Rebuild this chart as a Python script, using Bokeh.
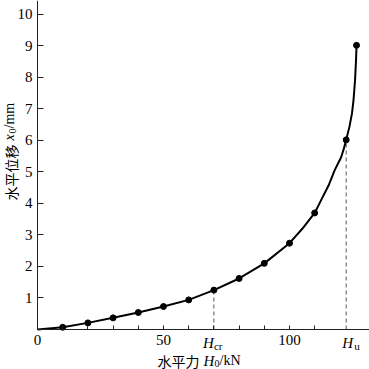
import math
from bokeh.plotting import figure
from bokeh.models import FixedTicker, Label, Range1d, LinearAxis
from bokeh.embed import file_html
from bokeh.resources import INLINE

# curve (horizontal force H0 in kN, displacement x0 in mm)
H_curve = [0, 10, 20, 30, 40, 50, 60, 70, 80, 90, 100, 105, 110, 112.7, 115.5, 117.9, 120.5, 121.6,
           122.5, 123.8, 124.8, 125.4, 126.0, 126.4, 126.6]
x_curve = [0, 0.07, 0.21, 0.37, 0.54, 0.73, 0.94, 1.25, 1.62, 2.1, 2.74, 3.19, 3.7, 4.13, 4.57, 5.05, 5.47, 5.75,
           6.02, 6.44, 6.86, 7.27, 7.90, 8.54, 9.02]

# measured points (markers)
H_pts = [10, 20, 30, 40, 50, 60, 70, 80, 90, 100, 110, 122.5, 126.6]
x_pts = [0.07, 0.21, 0.37, 0.54, 0.73, 0.94, 1.25, 1.62, 2.1, 2.74, 3.7, 6.02, 9.02]

# characteristic loads
H_cr = 70
x_cr = 1.25
H_u = 122.5
x_u = 6.02

x_major = [0, 50, 100]
x_major_labels = ["0", "50", "100"]
x_minor = [10, 20, 30, 40, 60, 70, 80, 90, 110]
y_ticks = [1, 2, 3, 4, 5, 6, 7, 8, 9, 10]

X_END = 131.75
Y_END = 10.444

p = figure(width=369, height=369, output_backend="svg", toolbar_location=None,
           x_range=Range1d(-14.683, X_END), y_range=Range1d(-1.2698, Y_END),
           x_axis_location=None, y_axis_location=None,
           min_border_left=0, min_border_right=0, min_border_top=0, min_border_bottom=0)
p.grid.visible = False
p.outline_line_color = None
p.background_fill_color = "white"
p.border_fill_color = "white"

SERIF = "Liberation Serif"
CJK = "Noto Sans CJK SC"

xa = LinearAxis(fixed_location=0, bounds=(0, X_END),
                ticker=FixedTicker(ticks=x_major, minor_ticks=x_minor))
xa.major_label_overrides = {t: l for t, l in zip(x_major, x_major_labels)}
xa.major_tick_in = 4
xa.major_tick_out = 0
xa.minor_tick_in = 4
xa.minor_tick_out = 0
xa.major_label_standoff = 6

ya = LinearAxis(fixed_location=0, bounds=(0, Y_END), ticker=FixedTicker(ticks=y_ticks))
ya.major_tick_in = 6
ya.major_tick_out = 0
ya.minor_tick_in = 0
ya.minor_tick_out = 0
ya.major_label_standoff = 5

for ax in (xa, ya):
    ax.axis_line_color = "#222222"
    ax.axis_line_width = 1
    ax.major_tick_line_color = "#222222"
    ax.minor_tick_line_color = "#222222"
    ax.major_label_text_font = SERIF
    ax.major_label_text_font_size = "15px"
    ax.major_label_text_color = "black"

p.add_layout(xa, "below")
p.add_layout(ya, "left")

p.segment(x0=[H_cr, H_u], y0=[0, 0], x1=[H_cr, H_u], y1=[x_cr, x_u],
          line_dash="4 3", line_color="#555555", line_width=1)
p.line(H_curve, x_curve, line_width=2, line_color="black")
p.scatter(H_pts, x_pts, size=6, color="black")

# frame covers the whole canvas: screen y measured from the bottom
def sy(py):
    return 369 - py

def lab(text, x, y, font, size, style="normal", angle=0, xu="screen", xo=0):
    p.add_layout(Label(x=x, y=y, x_units=xu, y_units="screen", x_offset=xo, text=text,
                       text_font=font, text_font_size=size, text_font_style=style,
                       text_color="black", angle=angle, text_align="left",
                       text_baseline="middle"))

# H_cr and H_u tick labels
lab("H", H_cr, sy(342), SERIF, "15px", "italic", xu="data", xo=-11)
lab("cr", H_cr, sy(345), SERIF, "11px", xu="data", xo=0)
lab("H", H_u, sy(342), SERIF, "15px", "italic", xu="data", xo=-4)
lab("u", H_u, sy(345), SERIF, "11px", xu="data", xo=8)

# x axis title
lab("水平力", 157, sy(360), CJK, "14px")
lab("H", 203, sy(360), SERIF, "15px", "italic")
lab("0", 214, sy(363), SERIF, "10px")
lab("/kN", 219, sy(360), SERIF, "14px")

# y axis title (rotated)
a = math.pi / 2
lab("水平位移", 10, sy(200), CJK, "14px", angle=a)
lab("x", 9, sy(140), SERIF, "14px", "italic", angle=a)
lab("0", 12, sy(133), SERIF, "10px", angle=a)
lab("/mm", 9, sy(128), SERIF, "14px", angle=a)

open("out.html", "w").write(file_html(p, INLINE))
